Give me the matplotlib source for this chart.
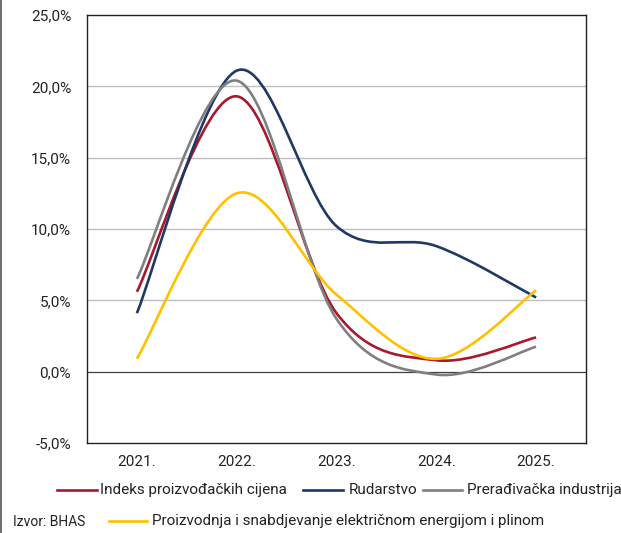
import numpy as np
import matplotlib.pyplot as plt
from matplotlib.path import Path
from matplotlib.patches import PathPatch
from matplotlib.lines import Line2D

plt.rcParams['font.family'] = ['Roboto', 'DejaVu Sans']

years = ['2021.', '2022.', '2023.', '2024.', '2025.']
indeks = [5.6, 19.3, 4.1, 0.8, 2.4]
rudarstvo = [4.1, 21.1, 10.2, 8.8, 5.2]
preradjivacka = [6.5, 20.4, 3.7, -0.2, 1.75]
energija = [0.9, 12.5, 5.4, 0.9, 5.7]

names = ['Indeks proizvođačkih cijena', 'Rudarstvo',
         'Prerađivačka industrija',
         'Proizvodnja i snabdjevanje električnom energijom i plinom']
colors = ['#a6192e', '#1f3864', '#7f7f7f', '#ffc000']

W, H = 621, 533


def smooth_path(y):
    # Excel-style smoothed line: cubic bezier through each point
    x = np.arange(len(y), dtype=float)
    p = np.column_stack([x, np.asarray(y, dtype=float)])
    verts = [p[0]]
    codes = [Path.MOVETO]
    n = len(p)
    for i in range(n - 1):
        p0 = p[i - 1] if i > 0 else p[i]
        p3 = p[i + 2] if i + 2 < n else p[i + 1]
        c1 = p[i] + (p[i + 1] - p0) / 6.0
        c2 = p[i + 1] - (p3 - p[i]) / 6.0
        verts += [c1, c2, p[i + 1]]
        codes += [Path.CURVE4] * 3
    return Path(verts, codes)


fig = plt.figure(figsize=(W / 100, H / 100), dpi=100)
ax = fig.add_axes([87 / W, 1 - 443 / H, (586 - 87) / W, (443 - 15) / H])

series = [indeks, rudarstvo, preradjivacka, energija]
for vals, col in zip(series, colors):
    ax.add_patch(PathPatch(smooth_path(vals), facecolor='none', edgecolor=col,
                           lw=1.9, zorder=3, capstyle='butt'))

ax.set_xlim(-0.5, 4.5)
ax.set_ylim(-5, 25)
ax.set_xticks(range(len(years)))
ax.set_xticklabels(years)
ax.set_yticks(np.arange(-5, 26, 5))
ax.set_yticklabels([f'{v:.1f}%'.replace('.', ',') for v in np.arange(-5, 26, 5)])
ax.tick_params(length=0, labelsize=11, colors='#222222')
ax.tick_params(axis='y', pad=11.5)
ax.tick_params(axis='x', pad=9)
for v in [5, 10, 15, 20]:
    ax.axhline(v, color='#bfbfbf', lw=1, zorder=1)
ax.axhline(0, color='#404040', lw=0.9, zorder=1)
for s in ax.spines.values():
    s.set_color('#222222')
    s.set_linewidth(1.0)

# legend laid out by hand (pixel positions of the original)
leg_items = [(57, 97, 100, 490, 0), (303, 343, 349, 490, 1),
             (423, 462, 467, 490, 2), (109, 147, 152, 521, 3)]
for x0, x1, tx, yy, k in leg_items:
    fig.add_artist(Line2D([x0 / W, x1 / W], [1 - yy / H, 1 - yy / H],
                          color=colors[k], lw=1.9))
    fig.text(tx / W, 1 - yy / H, names[k], fontsize=11, va='center',
             ha='left', color='#222222')
fig.text(13 / W, 1 - 522 / H, 'Izvor: BHAS', fontsize=10, va='center',
         ha='left', color='#222222')

fig.add_artist(Line2D([0.002, 0.002], [0, 1], color='#555555', lw=1.2))

fig.savefig('out.png', dpi=100)
